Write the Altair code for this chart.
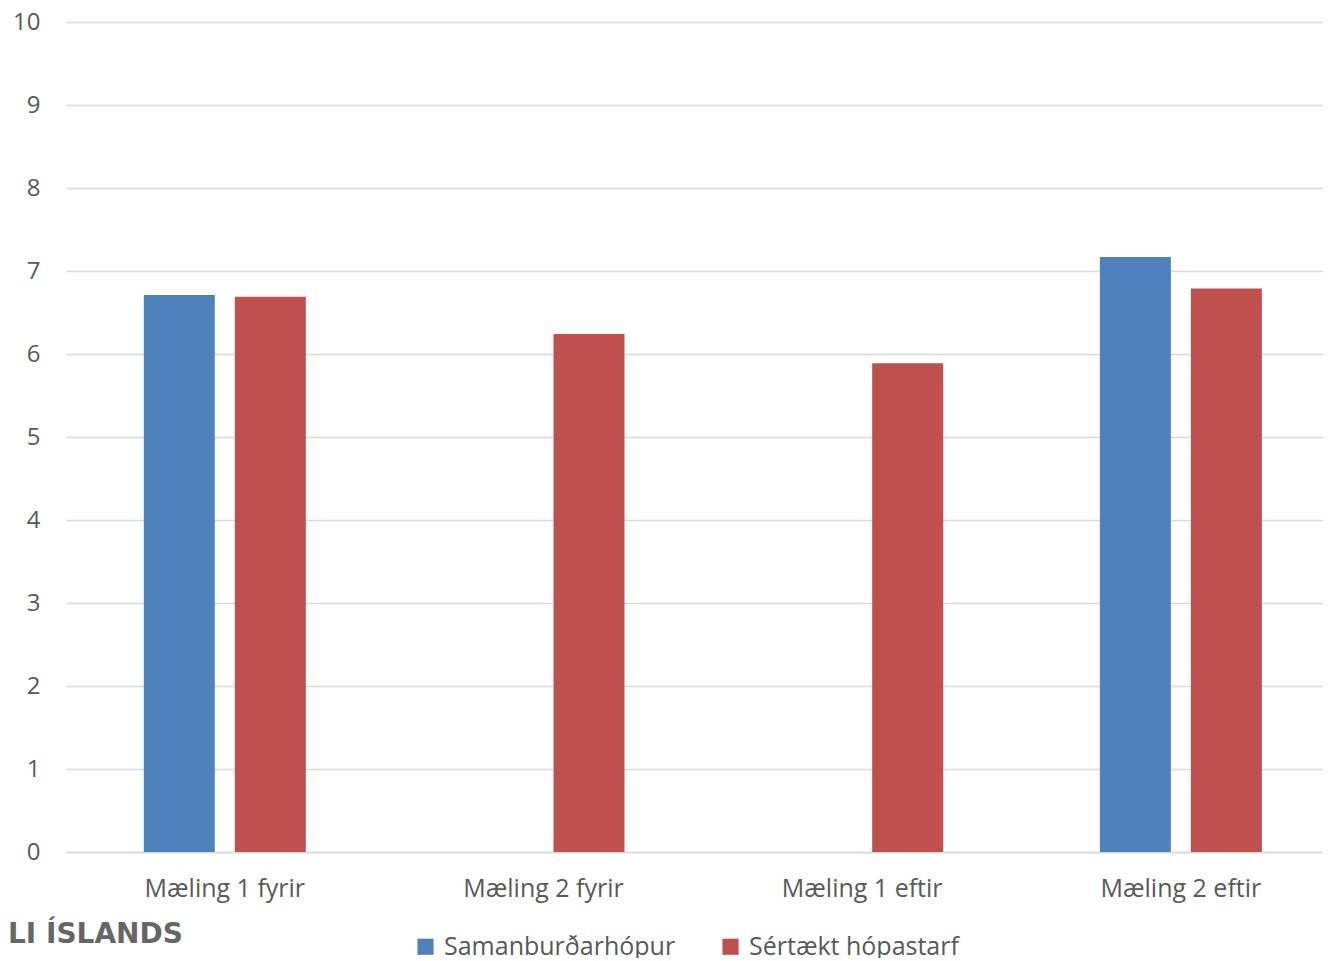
import altair as alt
import pandas as pd

categories = ["Mæling 1 fyrir", "Mæling 2 fyrir", "Mæling 1 eftir", "Mæling 2 eftir"]
series = ["Samanburðarhópur", "Sértækt hópastarf"]
blue_vals = [6.71, None, None, 7.17]
red_vals = [6.69, 6.24, 5.89, 6.79]
colors = ["#4F81BD", "#C0504D"]

rows = []
for c, b, r in zip(categories, blue_vals, red_vals):
    if b is not None:
        rows.append({"cat": c, "series": series[0], "value": b})
    if r is not None:
        rows.append({"cat": c, "series": series[1], "value": r})
df = pd.DataFrame(rows)

FONT = "Open Sans"

bars = alt.Chart(df).mark_bar().encode(
    x=alt.X("cat:N", sort=categories, title=None,
            scale=alt.Scale(paddingInner=0.4917, paddingOuter=0.218, align=0.56),
            axis=alt.Axis(labelAngle=0, labelFontSize=25, labelColor="#595959",
                          labelFont=FONT, labelPadding=24, ticks=False,
                          domainColor="#D9D9D9", domainWidth=1.5, grid=False)),
    xOffset=alt.XOffset("series:N", sort=series,
                        scale=alt.Scale(paddingInner=0.22, paddingOuter=0)),
    y=alt.Y("value:Q", title=None,
            scale=alt.Scale(domain=[0, 10], nice=False),
            axis=alt.Axis(values=list(range(0, 11)), labelFontSize=24,
                          labelColor="#595959", labelFont=FONT, labelPadding=26,
                          ticks=False, domain=False, gridColor="#D9D9D9",
                          gridWidth=1.5)),
    color=alt.Color("series:N", sort=series,
                    scale=alt.Scale(domain=series, range=colors),
                    legend=alt.Legend(title=None, orient="none", direction="horizontal",
                                      legendX=347, legendY=912, symbolType="square",
                                      symbolSize=260, symbolStrokeWidth=0,
                                      labelFontSize=25, labelFont=FONT, labelLimit=0,
                                      labelColor="#595959", columnPadding=42,
                                      labelOffset=6)),
)

logo = alt.Chart(pd.DataFrame({"t": ["LI ÍSLANDS"]})).mark_text(
    align="left", baseline="middle", fontSize=28, fontWeight="bold",
    font="DejaVu Sans", color="#666666"
).encode(text="t:N", x=alt.value(-58), y=alt.value(913))

chart = alt.layer(bars, logo).properties(
    width=1257, height=830,
    background="white",
    autosize=alt.AutoSizeParams(type="none"),
    padding={"left": 58, "top": 14, "right": 0, "bottom": 106},
).configure_view(stroke=None)

chart.save("out.html", embed_options={"renderer": "svg", "actions": False})
